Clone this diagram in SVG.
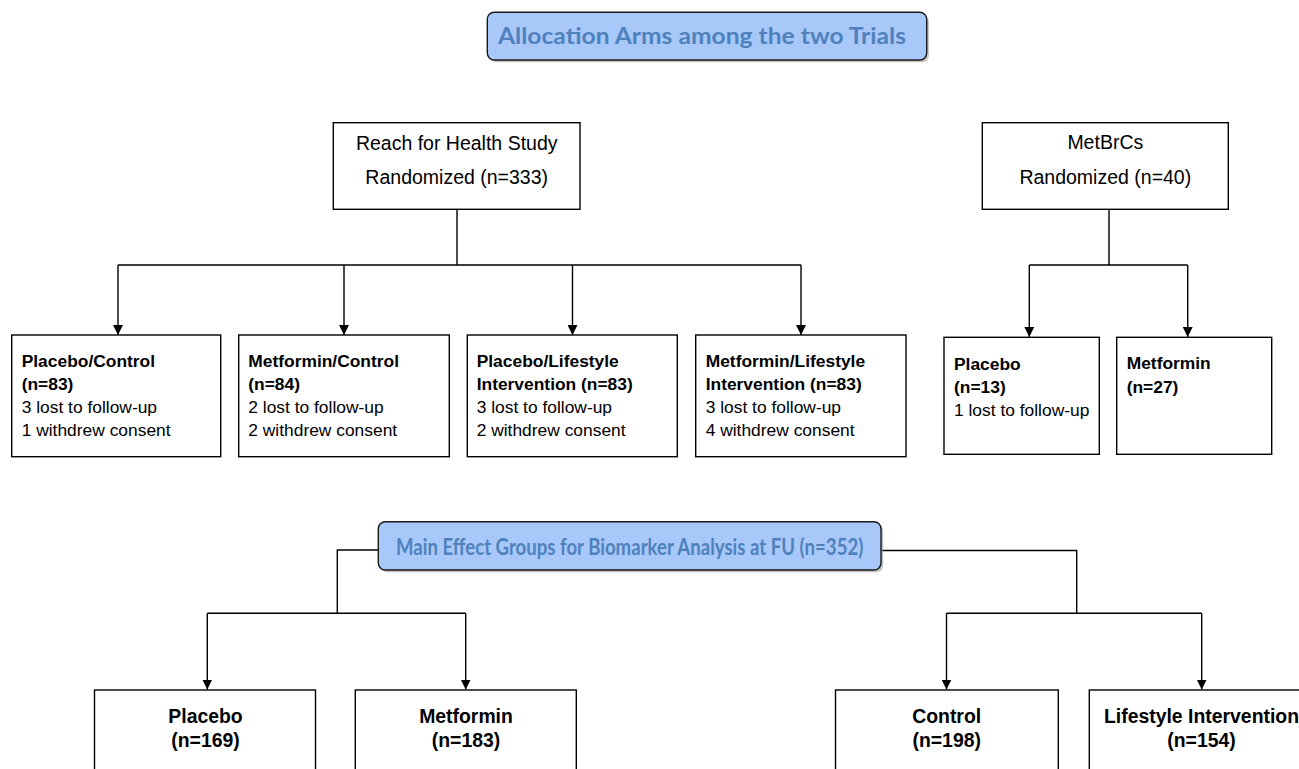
<svg xmlns="http://www.w3.org/2000/svg" width="1299" height="769" viewBox="0 0 1299 769">
<style>
.box{fill:#fff;stroke:#000;stroke-width:1.4}
.title{fill:#a8c8fa;stroke:#1a1a1a;stroke-width:1.4}
.shadow{fill:#9a9a9a;opacity:0.6}
.tt{font-family:Lato,"Open Sans",sans-serif;font-weight:bold;font-size:22px;fill:#4f81bd}
.lg{font-family:"Liberation Sans",Arial,sans-serif;font-size:19.5px;fill:#000}
.sm{font-family:"Liberation Sans",Arial,sans-serif;font-size:17.4px;fill:#000}
.b{font-weight:bold}
.bb{font-family:"Liberation Sans",Arial,sans-serif;font-size:19.4px;font-weight:bold;fill:#000}
.ln{fill:none;stroke:#000;stroke-width:1.4}
</style>
<defs>
<marker id="arr" markerWidth="10" markerHeight="10" refX="10" refY="5" orient="auto" markerUnits="userSpaceOnUse">
<path d="M0,0 L10,5 L0,10 Z" fill="#000"/>
</marker>
</defs>
<rect width="1299" height="769" fill="#fff"/>

<g id="connectors">
<path class="ln" d="M457,209.5 V265 M118,265 H801"/>
<path class="ln" d="M118,265 V335" marker-end="url(#arr)"/>
<path class="ln" d="M344,265 V335" marker-end="url(#arr)"/>
<path class="ln" d="M572.5,265 V335" marker-end="url(#arr)"/>
<path class="ln" d="M801,265 V335" marker-end="url(#arr)"/>
<path class="ln" d="M1109,209.5 V265 M1029.3,265 H1187.7"/>
<path class="ln" d="M1029.3,265 V337" marker-end="url(#arr)"/>
<path class="ln" d="M1187.7,265 V337" marker-end="url(#arr)"/>
<path class="ln" d="M378.3,550 H337.3 V613.3 M207.3,613.3 H465.7"/>
<path class="ln" d="M207.3,613.3 V689.5" marker-end="url(#arr)"/>
<path class="ln" d="M465.7,613.3 V689.5" marker-end="url(#arr)"/>
<path class="ln" d="M881,550.5 H1076.7 V613.3 M946.5,613.3 H1201.7"/>
<path class="ln" d="M946.5,613.3 V689.5" marker-end="url(#arr)"/>
<path class="ln" d="M1201.7,613.3 V689.5" marker-end="url(#arr)"/>
</g>

<g id="title1">
<rect class="shadow" x="489.5" y="14.5" width="439.4" height="47.7" rx="7"/>
<rect class="title" x="487.3" y="12.3" width="439.4" height="47.7" rx="7"/>
<text class="tt" x="498" y="44" textLength="408" lengthAdjust="spacingAndGlyphs">Allocation Arms among the two Trials</text>
</g>

<g id="reach">
<rect class="box" x="333.3" y="122.7" width="246.7" height="86.6"/>
<text class="lg" x="456.7" y="150" text-anchor="middle">Reach for Health Study</text>
<text class="lg" x="456.7" y="184" text-anchor="middle">Randomized (n=333)</text>
</g>

<g id="metbrcs">
<rect class="box" x="982.3" y="122.7" width="246" height="86.6"/>
<text class="lg" x="1105.3" y="149" text-anchor="middle">MetBrCs</text>
<text class="lg" x="1105.3" y="184" text-anchor="middle">Randomized (n=40)</text>
</g>

<g id="arm1">
<rect class="box" x="11.7" y="335" width="209" height="121.7"/>
<text class="sm" x="21.7"><tspan class="b" x="21.7" y="367">Placebo/Control</tspan><tspan class="b" x="21.7" y="390">(n=83)</tspan><tspan x="21.7" y="412.5">3 lost to follow-up</tspan><tspan x="21.7" y="435.5">1 withdrew consent</tspan></text>
</g>

<g id="arm2">
<rect class="box" x="238.7" y="335" width="210.6" height="121.7"/>
<text class="sm"><tspan class="b" x="248.3" y="367">Metformin/Control</tspan><tspan class="b" x="248.3" y="390">(n=84)</tspan><tspan x="248.3" y="412.5">2 lost to follow-up</tspan><tspan x="248.3" y="435.5">2 withdrew consent</tspan></text>
</g>

<g id="arm3">
<rect class="box" x="467.3" y="335" width="210" height="121.7"/>
<text class="sm"><tspan class="b" x="476.7" y="367">Placebo/Lifestyle</tspan><tspan class="b" x="476.7" y="390">Intervention (n=83)</tspan><tspan x="476.7" y="412.5">3 lost to follow-up</tspan><tspan x="476.7" y="435.5">2 withdrew consent</tspan></text>
</g>

<g id="arm4">
<rect class="box" x="695.7" y="335" width="210.3" height="121.7"/>
<text class="sm"><tspan class="b" x="705.7" y="367">Metformin/Lifestyle</tspan><tspan class="b" x="705.7" y="390">Intervention (n=83)</tspan><tspan x="705.7" y="412.5">3 lost to follow-up</tspan><tspan x="705.7" y="435.5">4 withdrew consent</tspan></text>
</g>

<g id="arm5">
<rect class="box" x="944" y="337.3" width="155.3" height="117"/>
<text class="sm"><tspan class="b" x="954" y="369.5">Placebo</tspan><tspan class="b" x="954" y="393">(n=13)</tspan><tspan x="954" y="416">1 lost to follow-up</tspan></text>
</g>

<g id="arm6">
<rect class="box" x="1116.7" y="337.3" width="155" height="117"/>
<text class="sm"><tspan class="b" x="1126.7" y="368.5">Metformin</tspan><tspan class="b" x="1126.7" y="392.5">(n=27)</tspan></text>
</g>

<g id="title2">
<rect class="shadow" x="380.5" y="523.9" width="502.7" height="48.3" rx="7"/>
<rect class="title" x="378.3" y="521.7" width="502.7" height="48.3" rx="7"/>
<text class="tt" x="396" y="555" textLength="467.3" lengthAdjust="spacingAndGlyphs">Main Effect Groups for Biomarker Analysis at FU (n=352)</text>
</g>

<g id="grp-placebo">
<rect class="box" x="94.5" y="690" width="221" height="100"/>
<text class="bb" x="205.5" y="723" text-anchor="middle">Placebo</text>
<text class="bb" x="205.5" y="747" text-anchor="middle">(n=169)</text>
</g>

<g id="grp-metformin">
<rect class="box" x="355.3" y="690" width="221" height="100"/>
<text class="bb" x="466" y="723" text-anchor="middle">Metformin</text>
<text class="bb" x="466" y="747" text-anchor="middle">(n=183)</text>
</g>

<g id="grp-control">
<rect class="box" x="835.5" y="690" width="222.8" height="100"/>
<text class="bb" x="946.7" y="723" text-anchor="middle">Control</text>
<text class="bb" x="946.7" y="747" text-anchor="middle">(n=198)</text>
</g>

<g id="grp-lifestyle">
<rect class="box" x="1089.3" y="690" width="225" height="100"/>
<text class="bb" x="1201.5" y="723" text-anchor="middle">Lifestyle Intervention</text>
<text class="bb" x="1201.5" y="747" text-anchor="middle">(n=154)</text>
</g>
</svg>
